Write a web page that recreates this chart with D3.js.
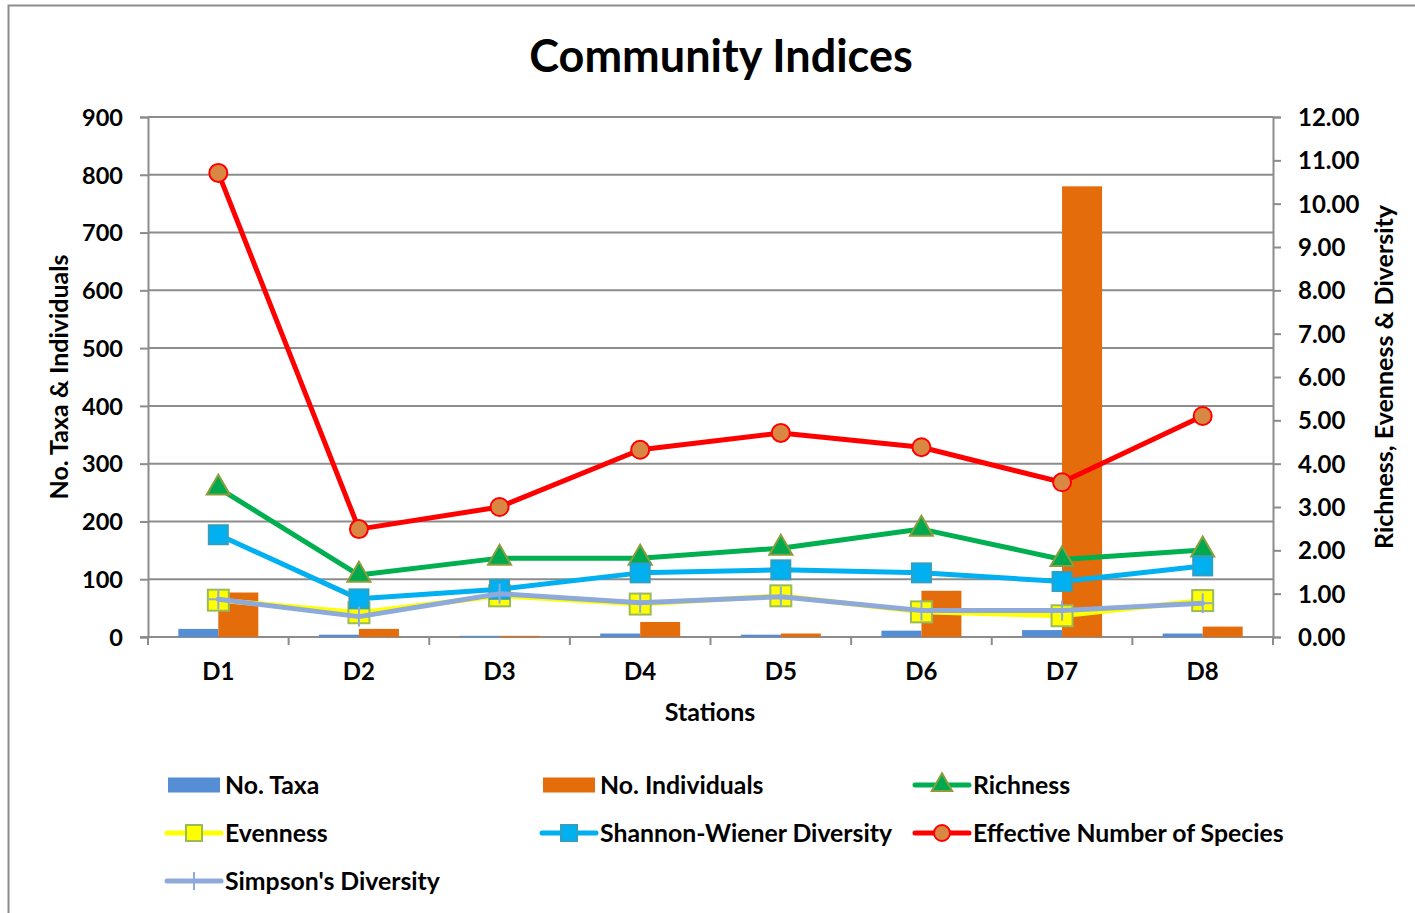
<!DOCTYPE html>
<html>
<head>
<meta charset="utf-8">
<script src="https://cdn.jsdelivr.net/npm/d3@7/dist/d3.min.js"></script>
<style>
  html, body { margin: 0; padding: 0; background: #fff; }
  svg { display: block; }
  text { font-family: Lato, "Open Sans", "DejaVu Sans", sans-serif; font-weight: 700; fill: #000; }
</style>
</head>
<body>
<svg id="chart" width="1415" height="913"></svg>
<script>
// Sampling stations
const stations = ["D1", "D2", "D3", "D4", "D5", "D6", "D7", "D8"];

// Counts (left axis)
const noTaxa        = [14, 4, 2, 6, 4, 11, 12, 6];
const noIndividuals = [77, 14, 2, 26, 6, 80, 780, 18];

// Indices (right axis)
const richness  = [3.44, 1.43, 1.82, 1.82, 2.05, 2.49, 1.79, 2.01];
const evenness  = [0.85, 0.56, 0.95, 0.76, 0.95, 0.58, 0.49, 0.84];
const shannon   = [2.36, 0.88, 1.10, 1.48, 1.55, 1.48, 1.28, 1.64];
const effective = [10.71, 2.49, 3.00, 4.32, 4.71, 4.38, 3.57, 5.10];
const simpson   = [0.87, 0.47, 1.00, 0.79, 0.93, 0.61, 0.61, 0.78];

// Axis ticks
const leftTicks  = [0, 100, 200, 300, 400, 500, 600, 700, 800, 900];
const rightTicks = [0, 1, 2, 3, 4, 5, 6, 7, 8, 9, 10, 11, 12];

const svg = d3.select("#chart");
const W = 1415, H = 913;
const plot = { left: 148, right: 1273, top: 117, bottom: 637 };
const gridColor = "#8c8c8c";

// Outer chart frame
svg.append("rect")
  .attr("x", 8.5).attr("y", 5.5)
  .attr("width", W + 20).attr("height", H + 20)
  .attr("fill", "#fff").attr("stroke", "#8c8c8c").attr("stroke-width", 2);

// Scales
const x = d3.scaleBand().domain(stations).range([plot.left, plot.right]).padding(0);
const yL = d3.scaleLinear().domain([0, 900]).range([plot.bottom, plot.top]);
const yR = d3.scaleLinear().domain([0, 12]).range([plot.bottom, plot.top]);
const barKeys = ["taxa", "ind"];
const xBar = d3.scaleBand().domain(barKeys).range([-40, 40]).padding(0);

// Title
svg.append("text")
  .attr("x", 721).attr("y", 72)
  .attr("text-anchor", "middle")
  .style("font-size", "45px")
  .text("Community Indices");

// Horizontal gridlines (left axis)
svg.append("g")
  .selectAll("line")
  .data(leftTicks.filter(d => d > 0))
  .join("line")
  .attr("x1", plot.left).attr("x2", plot.right)
  .attr("y1", d => yL(d)).attr("y2", d => yL(d))
  .attr("stroke", gridColor).attr("stroke-width", 2);

// Left axis
const leftAxis = svg.append("g")
  .attr("transform", `translate(${plot.left},0)`)
  .call(d3.axisLeft(yL).tickValues(leftTicks).tickSize(8).tickPadding(17).tickFormat(d3.format("d")));
leftAxis.select(".domain").attr("stroke", gridColor).attr("stroke-width", 2);
leftAxis.selectAll(".tick line").attr("stroke", gridColor).attr("stroke-width", 2);
leftAxis.selectAll(".tick text").style("font-size", "23.5px").attr("dy", "0.35em");

// Right axis
const rightAxis = svg.append("g")
  .attr("transform", `translate(${plot.right},0)`)
  .call(d3.axisRight(yR).tickValues(rightTicks).tickSize(8).tickPadding(17).tickFormat(d3.format(".2f")));
rightAxis.select(".domain").attr("stroke", gridColor).attr("stroke-width", 2);
rightAxis.selectAll(".tick line").attr("stroke", gridColor).attr("stroke-width", 2);
rightAxis.selectAll(".tick text").style("font-size", "24px").attr("dy", "0.35em");

// Bottom axis: baseline with ticks at category boundaries
const boundaries = stations.map(s => x(s)).concat([plot.right]);
svg.append("line")
  .attr("x1", plot.left - 8).attr("x2", plot.right)
  .attr("y1", plot.bottom).attr("y2", plot.bottom)
  .attr("stroke", gridColor).attr("stroke-width", 2);
svg.append("g").selectAll("line")
  .data(boundaries)
  .join("line")
  .attr("x1", d => d).attr("x2", d => d)
  .attr("y1", plot.bottom).attr("y2", plot.bottom + 8)
  .attr("stroke", gridColor).attr("stroke-width", 2);
svg.append("g").selectAll("text")
  .data(stations)
  .join("text")
  .attr("x", d => x(d) + x.bandwidth() / 2)
  .attr("y", 680)
  .attr("text-anchor", "middle")
  .style("font-size", "24px")
  .text(d => d);

// Axis titles
svg.append("text")
  .attr("x", 710).attr("y", 721)
  .attr("text-anchor", "middle")
  .style("font-size", "25px")
  .text("Stations");
svg.append("text")
  .attr("transform", `translate(68,377) rotate(-90)`)
  .attr("text-anchor", "middle")
  .style("font-size", "25px")
  .text("No. Taxa & Individuals");
svg.append("text")
  .attr("transform", `translate(1393,377) rotate(-90)`)
  .attr("text-anchor", "middle")
  .style("font-size", "25px")
  .text("Richness, Evenness & Diversity");

// Bars
const barColors = { taxa: "#558ed5", ind: "#e46c0a" };
const barData = stations.map((s, i) => ({ s, taxa: noTaxa[i], ind: noIndividuals[i] }));
const barGroups = svg.append("g").selectAll("g")
  .data(barData)
  .join("g")
  .attr("transform", d => `translate(${x(d.s) + x.bandwidth() / 2},0)`);
barGroups.selectAll("rect")
  .data(d => barKeys.map(k => ({ k, v: d[k] })))
  .join("rect")
  .attr("x", d => xBar(d.k))
  .attr("width", xBar.bandwidth())
  .attr("y", d => yL(d.v))
  .attr("height", d => yL(0) - yL(d.v))
  .attr("fill", d => barColors[d.k]);

// Line series on the right axis
const cx = s => x(s) + x.bandwidth() / 2;
const lineGen = d3.line().x(d => cx(d.s)).y(d => yR(d.v));

function drawMarker(g, type, opts) {
  if (type === "triangle") {
    g.append("path")
      .attr("d", d3.symbol().type(d3.symbolTriangle).size(opts.size)())
      .attr("fill", opts.fill).attr("stroke", opts.stroke).attr("stroke-width", 2);
  } else if (type === "square") {
    g.append("rect")
      .attr("x", -opts.size / 2).attr("y", -opts.size / 2)
      .attr("width", opts.size).attr("height", opts.size)
      .attr("fill", opts.fill).attr("stroke", opts.stroke).attr("stroke-width", 2);
  } else if (type === "circle") {
    g.append("circle").attr("r", opts.size / 2)
      .attr("fill", opts.fill).attr("stroke", opts.stroke).attr("stroke-width", 2);
  } else if (type === "plus") {
    g.append("line").attr("x1", 0).attr("x2", 0)
      .attr("y1", -opts.size / 2).attr("y2", opts.size / 2)
      .attr("stroke", opts.stroke).attr("stroke-width", 2);
    g.append("line").attr("y1", 0).attr("y2", 0)
      .attr("x1", -opts.size / 2).attr("x2", opts.size / 2)
      .attr("stroke", opts.stroke).attr("stroke-width", 2);
  }
}

const lineSeries = [
  { name: "Richness", values: richness, color: "#00b050",
    marker: "triangle", m: { size: 230, fill: "#00a84f", stroke: "#8c9e3c" } },
  { name: "Evenness", values: evenness, color: "#ffff00",
    marker: "square", m: { size: 21, fill: "#ffff00", stroke: "#9bbb59" } },
  { name: "Shannon-Wiener Diversity", values: shannon, color: "#00b0f0",
    marker: "square", m: { size: 19, fill: "#00b0f0", stroke: "#31a0c0" } },
  { name: "Effective Number of Species", values: effective, color: "#ff0000",
    marker: "circle", m: { size: 18, fill: "#d98844", stroke: "#ff0000" } },
  { name: "Simpson's Diversity", values: simpson, color: "#8eaadb",
    marker: "plus", m: { size: 20, stroke: "#8eaadb" } }
];

lineSeries.forEach(ser => {
  const pts = stations.map((s, i) => ({ s, v: ser.values[i] }));
  const g = svg.append("g");
  g.append("path")
    .datum(pts)
    .attr("d", lineGen)
    .attr("fill", "none")
    .attr("stroke", ser.color)
    .attr("stroke-width", 5)
    .attr("stroke-linejoin", "round")
    .attr("stroke-linecap", "round");
  g.selectAll("g.pt")
    .data(pts)
    .join("g")
    .attr("class", "pt")
    .attr("transform", d => `translate(${cx(d.s)},${yR(d.v)})`)
    .each(function () { drawMarker(d3.select(this), ser.marker, ser.m); });
});

// Legend
const legendItems = [
  { name: "No. Taxa", kind: "bar", color: barColors.taxa, col: 0, row: 0 },
  { name: "No. Individuals", kind: "bar", color: barColors.ind, col: 1, row: 0 },
  { ...lineSeries[0], kind: "line", col: 2, row: 0 },
  { ...lineSeries[1], kind: "line", col: 0, row: 1 },
  { ...lineSeries[2], kind: "line", col: 1, row: 1 },
  { ...lineSeries[3], kind: "line", col: 2, row: 1 },
  { ...lineSeries[4], kind: "line", col: 0, row: 2 }
];
const colX = [167, 542, 915];
const rowY = [785, 833, 881];
const legend = svg.append("g");
legendItems.forEach(it => {
  const g = legend.append("g").attr("transform", `translate(${colX[it.col]},${rowY[it.row]})`);
  if (it.kind === "bar") {
    g.append("rect").attr("x", 1).attr("y", -7.5).attr("width", 52).attr("height", 15).attr("fill", it.color);
  } else {
    g.append("line").attr("x1", 0).attr("x2", 54).attr("y1", 0).attr("y2", 0)
      .attr("stroke", it.color).attr("stroke-width", 5).attr("stroke-linecap", "round");
    const mg = g.append("g").attr("transform", "translate(27,0)");
    const mo = Object.assign({}, it.m);
    if (it.marker === "square") mo.size = 16;
    if (it.marker === "triangle") mo.size = 180;
    if (it.marker === "circle") mo.size = 16;
    if (it.marker === "plus") mo.size = 18;
    drawMarker(mg, it.marker, mo);
  }
  g.append("text")
    .attr("x", 58).attr("y", 0).attr("dy", "0.35em")
    .style("font-size", "24.8px")
    .text(it.name);
});
</script>
</body>
</html>
